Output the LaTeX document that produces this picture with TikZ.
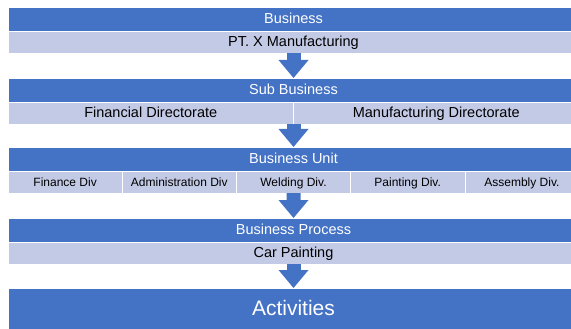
\documentclass[tikz,border=0pt]{standalone}
\usepackage{fontspec}
\setmainfont{Liberation Sans}
\usetikzlibrary{arrows.meta}
\definecolor{dkblue}{HTML}{4472C4}
\definecolor{ltblue}{HTML}{C3CAE6}
\begin{document}
\begin{tikzpicture}[x=1pt,y=-1pt,
  box/.style={draw=white, line width=0.6pt, inner sep=0pt, outer sep=0pt, anchor=north west},
  hdr/.style={box, fill=dkblue, text=white, minimum width=571pt, minimum height=24pt,
    text height=11.4pt, text depth=2pt, font=\fontsize{14.5}{16}\selectfont},
  lt/.style={box, fill=ltblue, text=black, minimum height=22pt,
    text height=11.4pt, text depth=2pt, font=\fontsize{14.5}{16}\selectfont},
  cell/.style={box, fill=ltblue, text=black, minimum height=22pt, minimum width=114.2pt,
    text height=9.6pt, text depth=1.5pt, font=\fontsize{12}{14}\selectfont},
  arr/.style={draw=dkblue, line width=14pt,
    -{Triangle[width=30pt,length=18pt,line width=0pt]}}
]
\useasboundingbox (0,0) rectangle (571,329);
\clip (0,0) rectangle (571,329);

% Business
\node[hdr] (bizH) at (8,7) {Business};
\node[lt, minimum width=571pt] (bizL) at (bizH.south west) {PT. X Manufacturing};

% Sub Business
\node[hdr] (subH) at (8,78) {Sub Business};
\node[lt, minimum width=285.5pt] (subA) at (subH.south west) {Financial Directorate};
\node[lt, minimum width=285.5pt] (subB) at (subA.north east) {Manufacturing Directorate};
\draw[arr] (bizL.south) -- (subH.north);

% Business Unit
\node[hdr] (unitH) at (8,147) {Business Unit};
\node[cell] (u1) at (unitH.south west) {Finance Div};
\node[cell] (u2) at (u1.north east) {Administration Div};
\node[cell] (u3) at (u2.north east) {Welding Div.};
\node[cell] (u4) at (u3.north east) {Painting Div.};
\node[cell] (u5) at (u4.north east) {Assembly Div.};
\draw[arr] (subA.south east) -- (unitH.north);

% Business Process
\node[hdr] (procH) at (8,218) {Business Process};
\node[lt, minimum width=571pt] (procL) at (procH.south west) {Car Painting};
\draw[arr] (u3.south) -- (procH.north);

% Activities
\node[box, fill=dkblue, text=white, minimum width=571pt, minimum height=43pt,
  text height=17pt, text depth=4.6pt, font=\fontsize{21}{24}\selectfont] (act) at (8,288) {Activities};
\draw[arr] (procL.south) -- (act.north);
\end{tikzpicture}
\end{document}
